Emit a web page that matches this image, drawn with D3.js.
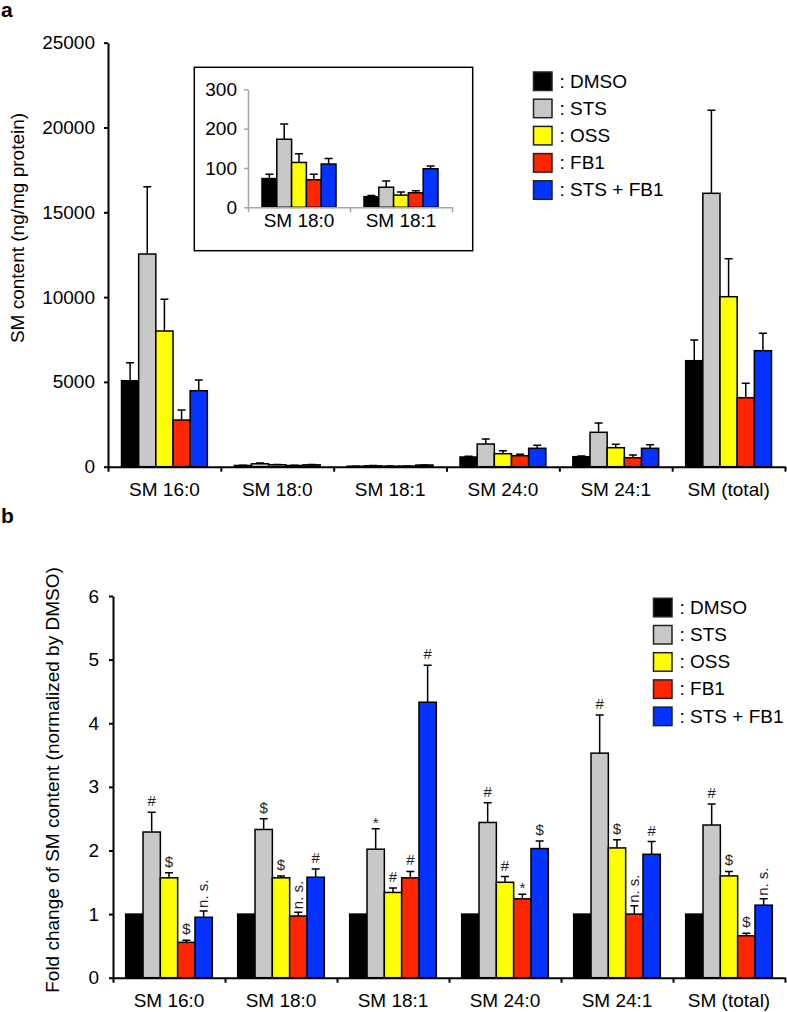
<!DOCTYPE html>
<head>
<meta charset="utf-8">
<title>SM content</title>
<style>
body {
  margin: 0;
  background: #fff;
}
text {
  font-family: "Liberation Sans", Arial, Helvetica, sans-serif;
  font-size: 19px;
  fill: #000;
}
.axis path,
.axis line {
  fill: none;
  stroke: #000;
  stroke-width: 2px;
}
.inset .axis path,
.inset .axis line {
  stroke: #a6a6a6;
  stroke-width: 1.5px;
}
.bar {
  stroke: #000;
  stroke-width: 1.5px;
}
.err {
  stroke: #000;
  stroke-width: 1.5px;
  fill: none;
}
.mark {
  font-size: 15px;
  fill: #222;
}
.panel {
  font-size: 21px;
  font-weight: bold;
}
</style>
<script src="https://d3js.org/d3.v7.min.js"></script>
</head>
<body>
<script>
"use strict";
// categories and treatment groups
var categories = ["SM 16:0", "SM 18:0", "SM 18:1", "SM 24:0", "SM 24:1", "SM (total)"];
var groups = ["DMSO", "STS", "OSS", "FB1", "STS + FB1"];
var groupColors = ["#000000", "#c8c8c8", "#ffff00", "#ff2600", "#0433ff"];
var legendLabels = [": DMSO", ": STS", ": OSS", ": FB1", ": STS + FB1"];

// panel a: SM content (ng/mg protein), one row per group
var contentMean = [
  [5070, 73, 27, 572, 590, 6250],
  [12540, 173, 51, 1338, 2028, 16120],
  [8000, 114, 31, 767, 1120, 10024],
  [2752, 70, 37, 649, 530, 4068],
  [4481, 110, 98, 1085, 1085, 6840]
];
var contentErr = [
  [1060, 11, 3, 50, 40, 1220],
  [3970, 39, 16, 295, 550, 4890],
  [1870, 22, 8, 176, 200, 2240],
  [590, 14, 5, 82, 160, 850],
  [630, 14, 7, 177, 212, 1026]
];
var contentTicks = [0, 5000, 10000, 15000, 20000, 25000];

// inset: SM 18:0 and SM 18:1 only
var insetCategories = ["SM 18:0", "SM 18:1"];
var insetTicks = [0, 100, 200, 300];

// panel b: fold change normalized by DMSO
var foldMean = [
  [1, 1, 1, 1, 1, 1],
  [2.29, 2.33, 2.02, 2.44, 3.53, 2.40],
  [1.57, 1.57, 1.34, 1.50, 2.04, 1.60],
  [0.556, 0.97, 1.57, 1.24, 1.00, 0.66],
  [0.95, 1.58, 4.33, 2.03, 1.94, 1.14]
];
var foldErr = [
  [0, 0, 0, 0, 0, 0],
  [0.31, 0.17, 0.32, 0.31, 0.60, 0.33],
  [0.08, 0.03, 0.07, 0.09, 0.13, 0.07],
  [0.034, 0.06, 0.10, 0.07, 0.13, 0.04],
  [0.10, 0.13, 0.58, 0.12, 0.20, 0.10]
];
var foldMarks = [
  ["", "", "", "", "", ""],
  ["#", "$", "*", "#", "#", "#"],
  ["$", "$", "#", "#", "$", "$"],
  ["$", "n. s.", "#", "*", "n. s.", "$"],
  ["n. s.", "#", "#", "$", "#", "n. s."]
];
var foldTicks = [0, 1, 2, 3, 4, 5, 6];

var svg = d3.select("body").append("svg")
    .attr("width", 787)
    .attr("height", 1012);

function rows(cats, means, errs, marks) {
  var out = [];
  groups.forEach(function(gname, gi) {
    cats.forEach(function(c) {
      var idx = categories.indexOf(c);
      out.push({
        cat: c, group: gname, gi: gi,
        v: means[gi][idx], e: errs[gi][idx],
        mark: marks ? marks[gi][idx] : ""
      });
    });
  });
  return out;
}

function chart(g, opt) {
  var x0 = d3.scaleBand().domain(opt.cats).range(opt.xr);
  var x1 = d3.scaleBand().domain(groups)
      .range([opt.pad, x0.bandwidth() - opt.pad]);
  var y = d3.scaleLinear().domain([0, opt.ymax]).range(opt.yr);
  var edge = d3.scaleLinear().domain([0, opt.cats.length]).range(opt.xr);

  var data = rows(opt.cats, opt.means, opt.errs, opt.marks);
  var cx = function(d) { return x0(d.cat) + x1(d.group) + x1.bandwidth() / 2; };

  g.selectAll(".bar")
      .data(data)
    .enter().append("rect")
      .attr("class", "bar")
      .attr("x", function(d) { return x0(d.cat) + x1(d.group); })
      .attr("width", x1.bandwidth())
      .attr("y", function(d) { return y(d.v); })
      .attr("height", function(d) { return y(0) - y(d.v); })
      .attr("fill", function(d) { return groupColors[d.gi]; });

  var eb = data.filter(function(d) { return d.e > 0; });
  g.selectAll(".err")
      .data(eb)
    .enter().append("path")
      .attr("class", "err")
      .attr("d", function(d) {
        var x = cx(d), top = y(d.v + d.e);
        return "M" + x + "," + y(d.v) + "V" + top +
               "M" + (x - 4) + "," + top + "H" + (x + 4);
      });

  // significance marks
  var mk = data.filter(function(d) { return d.mark; });
  mk.forEach(function(d) {
    var top = y(d.v + d.e);
    if (d.mark === "n. s.") {
      g.append("text")
          .attr("class", "mark")
          .attr("transform", "translate(" + cx(d) + "," + (top - 3) + ") rotate(-90)")
          .attr("dy", "0.3em")
          .text(d.mark);
    } else {
      g.append("text")
          .attr("class", "mark")
          .attr("x", cx(d))
          .attr("y", top - (d.mark === "*" ? 1 : 6))
          .attr("text-anchor", "middle")
          .text(d.mark);
    }
  });

  g.append("g")
      .attr("class", "axis")
      .attr("transform", "translate(" + opt.xr[0] + ",0)")
      .call(d3.axisLeft(y).tickValues(opt.ticks).tickSize(4)
        .tickFormat(d3.format("d")).tickPadding(opt.tpad).tickSizeOuter(0));

  g.append("g")
      .attr("class", "axis")
      .attr("transform", "translate(0," + opt.yr[0] + ")")
      .call(d3.axisBottom(edge).tickValues(d3.range(opt.cats.length + 1))
        .tickFormat("").tickSize(5).tickSizeOuter(0));

  g.append("g")
      .attr("transform", "translate(0," + opt.yr[0] + ")")
      .call(d3.axisBottom(x0).tickSize(0).tickPadding(opt.xpad))
      .call(function(a) { a.select(".domain").remove(); });
}

function legend(x, y) {
  var lg = svg.append("g")
      .attr("transform", "translate(" + x + "," + y + ")");
  var item = lg.selectAll("g")
      .data(groups)
    .enter().append("g")
      .attr("transform", function(d, i) { return "translate(0," + (i * 27.2) + ")"; });
  item.append("rect")
      .attr("width", 18.5)
      .attr("height", 18.5)
      .attr("fill", function(d, i) { return groupColors[i]; })
      .attr("stroke", "#222")
      .attr("stroke-width", 1.5);
  item.append("text")
      .attr("x", 26)
      .attr("y", 15.5)
      .text(function(d, i) { return legendLabels[i]; });
}

// panel a
svg.append("text").attr("class", "panel").attr("x", 1).attr("y", 17).text("a");

chart(svg.append("g"), {
  cats: categories, means: contentMean, errs: contentErr,
  xr: [108, 785], yr: [466.7, 42.7], ymax: 25000, ticks: contentTicks,
  pad: 13.5, tpad: 9, xpad: 16
});

svg.append("text")
    .attr("transform", "translate(24,228) rotate(-90)")
    .attr("text-anchor", "middle")
    .text("SM content (ng/mg protein)");

// inset
svg.append("rect")
    .attr("x", 194.3)
    .attr("y", 67.3)
    .attr("width", 278.4)
    .attr("height", 183.4)
    .attr("fill", "#fff")
    .attr("stroke", "#000")
    .attr("stroke-width", 1.5);

chart(svg.append("g").attr("class", "inset"), {
  cats: insetCategories, means: contentMean, errs: contentErr,
  xr: [248, 452], yr: [207.3, 89.3], ymax: 300, ticks: insetTicks,
  pad: 14, tpad: 7, xpad: 6
});

legend(533.5, 72);

// panel b
svg.append("text").attr("class", "panel").attr("x", 1).attr("y", 523).text("b");

chart(svg.append("g"), {
  cats: categories, means: foldMean, errs: foldErr, marks: foldMarks,
  xr: [113, 785], yr: [977.7, 596], ymax: 6, ticks: foldTicks,
  pad: 12.7, tpad: 10, xpad: 16
});

svg.append("text")
    .attr("transform", "translate(59,780) rotate(-90)")
    .attr("text-anchor", "middle")
    .text("Fold change of SM content (normalized by DMSO)");

legend(653.5, 598.3);
</script>
</body>
